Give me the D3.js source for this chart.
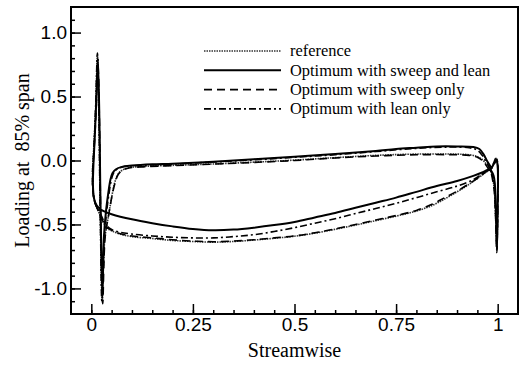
<!DOCTYPE html>
<html>
<head>
<meta charset="utf-8">
<script src="https://cdn.jsdelivr.net/npm/d3@7"></script>
<style>
  body { margin: 0; background: #fff; }
  svg { display: block; font-family: "Liberation Serif", "Times New Roman", serif; }
</style>
</head>
<body>
<svg id="chart"></svg>
<script>
// loading curves, each one closed loop: upper branch (TE -> LE), LE spikes, lower branch, TE spike
var reference = [
  [0.981,-0.075],[0.973,-0.035],[0.963,0.005],[0.95,0.03],[0.93,0.045],[0.9,0.05],[0.8,0.05],[0.7,0.04],
  [0.6,0.022],[0.5,0.003],[0.4,-0.013],[0.3,-0.027],[0.2,-0.038],[0.12,-0.048],[0.09,-0.058],[0.075,-0.078],
  [0.065,-0.11],[0.057,-0.18],[0.051,-0.27],
  [0.043,-0.42],[0.033,-0.62],[0.027,-1.1],[0.023,-0.6],[0.021,-0.2],[0.019,0.3],[0.015,0.82],[0.011,0.42],
  [0.006,0.1],[0.003,-0.1],[0.005,-0.26],[0.01,-0.34],[0.019,-0.41],[0.029,-0.48],[0.039,-0.53],
  [0.05,-0.55],[0.07,-0.575],[0.1,-0.595],[0.15,-0.61],[0.2,-0.625],[0.25,-0.633],[0.3,-0.638],[0.35,-0.633],
  [0.4,-0.622],[0.45,-0.608],[0.5,-0.592],[0.55,-0.568],[0.6,-0.538],[0.65,-0.505],[0.7,-0.47],[0.75,-0.435],
  [0.8,-0.395],[0.84,-0.35],[0.87,-0.3],[0.9,-0.245],[0.93,-0.185],[0.955,-0.13],[0.97,-0.095],[0.981,-0.075],
  [0.99,-0.18],[0.995,-0.45],[0.998,-0.68],[1.0,-0.35],[1.0,-0.03],[0.997,0.02],[0.99,-0.03],[0.981,-0.075]
];

var sweepLean = [
  [0.985,-0.06],[0.975,-0.01],[0.965,0.05],[0.955,0.09],[0.94,0.105],[0.9,0.11],[0.85,0.11],[0.8,0.1],
  [0.75,0.09],[0.7,0.075],[0.6,0.05],[0.5,0.03],[0.4,0.01],[0.3,-0.01],[0.2,-0.025],[0.15,-0.03],[0.1,-0.04],
  [0.075,-0.05],[0.06,-0.07],[0.052,-0.1],[0.047,-0.15],[0.042,-0.25],
  [0.036,-0.4],[0.031,-0.6],[0.027,-1.05],[0.024,-0.6],[0.022,-0.2],[0.02,0.3],[0.016,0.8],[0.012,0.45],
  [0.008,0.15],[0.005,-0.05],[0.004,-0.2],[0.007,-0.3],[0.013,-0.35],[0.022,-0.38],[0.033,-0.4],
  [0.05,-0.42],[0.1,-0.46],[0.15,-0.49],[0.2,-0.515],[0.25,-0.535],[0.3,-0.545],[0.35,-0.54],[0.4,-0.525],
  [0.45,-0.505],[0.5,-0.48],[0.55,-0.445],[0.6,-0.41],[0.65,-0.37],[0.7,-0.33],[0.75,-0.29],[0.8,-0.245],
  [0.85,-0.2],[0.9,-0.16],[0.94,-0.12],[0.965,-0.09],[0.98,-0.07],
  [0.99,-0.12],[0.995,-0.35],[0.998,-0.7],[1.0,-0.35],[1.0,-0.05],[0.997,0.0],[0.99,-0.03],[0.985,-0.06]
];

var sweepOnly = [
  [0.98,-0.08],[0.972,-0.04],[0.962,0.0],[0.95,0.025],[0.93,0.04],[0.9,0.045],[0.8,0.045],[0.7,0.035],
  [0.6,0.02],[0.5,0.0],[0.4,-0.015],[0.3,-0.028],[0.2,-0.04],[0.12,-0.05],[0.09,-0.06],[0.075,-0.08],
  [0.066,-0.11],[0.058,-0.18],[0.052,-0.26],
  [0.044,-0.4],[0.034,-0.6],[0.028,-1.12],[0.024,-0.6],[0.022,-0.2],[0.02,0.3],[0.016,0.78],[0.012,0.4],
  [0.007,0.1],[0.003,-0.1],[0.004,-0.25],[0.009,-0.33],[0.018,-0.4],[0.028,-0.47],[0.038,-0.52],
  [0.05,-0.545],[0.07,-0.57],[0.1,-0.59],[0.15,-0.605],[0.2,-0.62],[0.25,-0.63],[0.3,-0.635],[0.35,-0.63],
  [0.4,-0.62],[0.45,-0.605],[0.5,-0.59],[0.55,-0.565],[0.6,-0.535],[0.65,-0.5],[0.7,-0.465],[0.75,-0.43],
  [0.8,-0.39],[0.84,-0.34],[0.87,-0.29],[0.9,-0.24],[0.93,-0.18],[0.955,-0.13],[0.97,-0.09],[0.98,-0.08],
  [0.99,-0.2],[0.995,-0.45],[0.998,-0.72],[1.0,-0.4],[1.0,-0.05],[0.997,0.01],[0.99,-0.04],[0.98,-0.08]
];

var leanOnly = [
  [0.983,-0.07],[0.973,-0.02],[0.962,0.04],[0.95,0.08],[0.93,0.1],[0.88,0.105],[0.8,0.095],[0.7,0.07],
  [0.6,0.045],[0.5,0.025],[0.4,0.005],[0.3,-0.012],[0.2,-0.028],[0.1,-0.042],[0.075,-0.052],[0.06,-0.075],
  [0.053,-0.11],[0.048,-0.17],[0.043,-0.27],
  [0.037,-0.42],[0.032,-0.62],[0.026,-1.1],[0.023,-0.62],[0.021,-0.2],[0.019,0.3],[0.015,0.84],[0.011,0.45],
  [0.007,0.12],[0.004,-0.08],[0.004,-0.22],[0.008,-0.32],[0.016,-0.38],[0.026,-0.44],[0.035,-0.5],
  [0.05,-0.54],[0.07,-0.56],[0.1,-0.575],[0.15,-0.59],[0.2,-0.6],[0.25,-0.605],[0.3,-0.605],[0.35,-0.595],
  [0.4,-0.58],[0.45,-0.555],[0.5,-0.525],[0.55,-0.49],[0.6,-0.455],[0.65,-0.415],[0.7,-0.375],[0.75,-0.335],
  [0.8,-0.29],[0.85,-0.245],[0.9,-0.2],[0.94,-0.15],[0.965,-0.1],[0.98,-0.075],
  [0.99,-0.15],[0.995,-0.4],[0.998,-0.65],[1.0,-0.3],[1.0,-0.02],[0.996,0.02],[0.99,-0.02],[0.983,-0.07]
];

var seriesNames = ["reference", "Optimum with sweep and lean", "Optimum with sweep only", "Optimum with lean only"];
var xTicks = [0, 0.25, 0.5, 0.75, 1];
var xTickLabels = ["0", "0.25", "0.5", "0.75", "1"];
var yTicks = [-1, -0.5, 0, 0.5, 1];
var yTickLabels = ["-1.0", "-0.5", "0.0", "0.5", "1.0"];

var W = 524, H = 366;
var margin = { top: 7, right: 6, bottom: 52, left: 71 },
  width = W - margin.left - margin.right,
  height = H - margin.top - margin.bottom;

var x = d3.scaleLinear().domain([-0.05, 1.05]).range([0, width]);
var y = d3.scaleLinear().domain([-1.2, 1.2]).range([height, 0]);

var svg = d3.select("#chart").attr("width", W).attr("height", H);
var g = svg.append("g").attr("transform", "translate(" + margin.left + "," + margin.top + ")");

g.append("clipPath").attr("id", "clip")
  .append("rect").attr("width", width).attr("height", height);

// minor ticks
var xMinor = d3.range(0, 21).map(function (i) { return i * 0.05; });
var yMinor = d3.range(-11, 12).map(function (i) { return i / 10; });

g.append("g").attr("class", "minor")
  .attr("transform", "translate(0," + height + ")")
  .call(d3.axisBottom(x).tickValues(xMinor).tickSize(-4).tickFormat(""));
g.append("g").attr("class", "minor")
  .call(d3.axisLeft(y).tickValues(yMinor).tickSize(-4).tickFormat(""));

// major ticks + labels
var xAxis = g.append("g")
  .attr("transform", "translate(0," + height + ")")
  .call(d3.axisBottom(x).tickValues(xTicks).tickSize(-10).tickPadding(4)
    .tickFormat(function (d, i) { return xTickLabels[i]; }));
var yAxis = g.append("g")
  .call(d3.axisLeft(y).tickValues(yTicks).tickSize(-10).tickPadding(4)
    .tickFormat(function (d, i) { return yTickLabels[i]; }));

svg.selectAll(".domain").remove();
svg.selectAll(".tick line").attr("stroke", "#000").attr("stroke-width", 1.5);
xAxis.selectAll("text").attr("font-size", 19).attr("fill", "#000");
yAxis.selectAll("text").attr("font-size", 19).attr("fill", "#000");

// frame
g.append("rect").attr("width", width).attr("height", height)
  .attr("fill", "none").attr("stroke", "#000").attr("stroke-width", 2);

// curves
var line = d3.line()
  .x(function (d) { return x(d[0]); })
  .y(function (d) { return y(d[1]); })
  .curve(d3.curveCatmullRom.alpha(0.5));

var styles = [
  { data: reference, dash: "1.5,1", width: 1.6, color: "#333" },
  { data: sweepLean, dash: null, width: 2, color: "#000" },
  { data: sweepOnly, dash: "8,5", width: 1.6, color: "#000" },
  { data: leanOnly, dash: "7,3,2,3", width: 1.6, color: "#000" }
];

var curves = g.append("g").attr("clip-path", "url(#clip)");
styles.forEach(function (s) {
  curves.append("path")
    .datum(s.data)
    .attr("d", line)
    .attr("fill", "none")
    .attr("stroke", s.color)
    .attr("stroke-width", s.width)
    .attr("stroke-linejoin", "round")
    .attr("stroke-dasharray", s.dash);
});

// legend
var legend = svg.append("g").attr("transform", "translate(204,51)");
styles.forEach(function (s, i) {
  var row = legend.append("g").attr("transform", "translate(0," + (i * 19.3) + ")");
  row.append("line")
    .attr("x1", 0).attr("x2", 77).attr("y1", 0).attr("y2", 0)
    .attr("stroke", s.color)
    .attr("stroke-width", s.width)
    .attr("stroke-dasharray", s.dash);
  row.append("text")
    .attr("x", 86).attr("y", 0).attr("dy", "0.32em")
    .attr("font-size", 16.4)
    .text(seriesNames[i]);
});

// axis titles
svg.append("text")
  .attr("x", margin.left + x(0.5)).attr("y", 357)
  .attr("text-anchor", "middle").attr("font-size", 20)
  .text("Streamwise");

svg.append("text")
  .attr("transform", "translate(29," + (margin.top + y(0)) + ") rotate(-90)")
  .attr("text-anchor", "middle").attr("font-size", 20)
  .attr("xml:space", "preserve")
  .style("white-space", "pre")
  .text("Loading at  85% span");
</script>
</body>
</html>
